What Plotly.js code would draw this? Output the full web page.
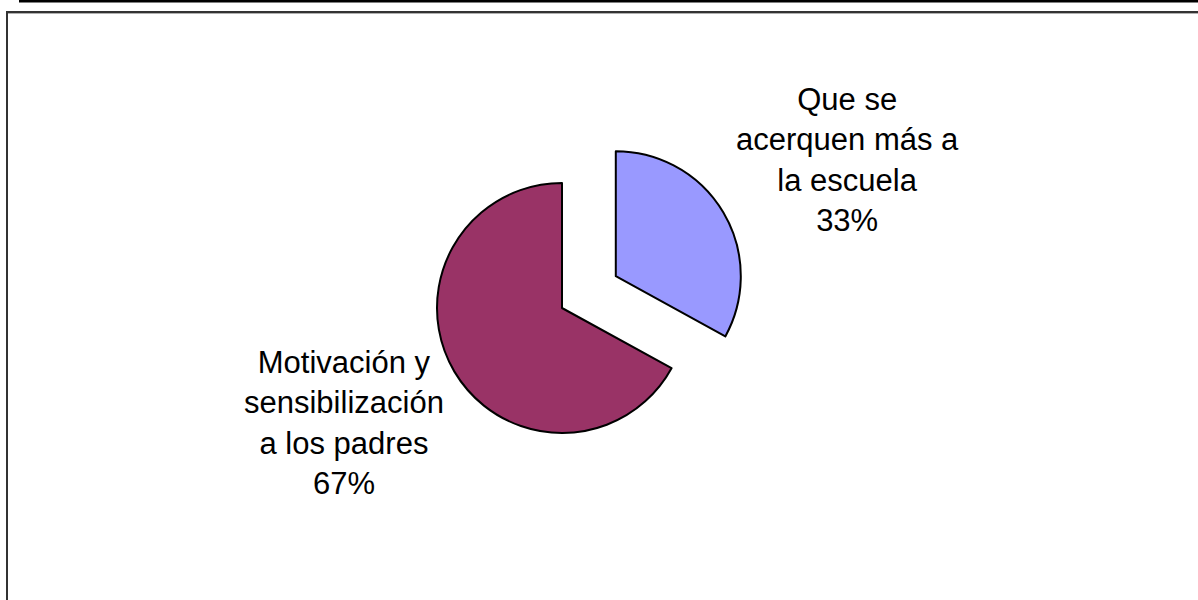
<!DOCTYPE html>
<html>
<head>
<meta charset="utf-8">
<script src="https://cdn.plot.ly/plotly-3.0.1.min.js"></script>
<style>html,body{margin:0;padding:0;background:#fff;}#chart{width:1198px;height:600px;}</style>
</head>
<body>
<div id="chart"></div>
<script>
var labels = ['Que se acerquen más a la escuela', 'Motivación y sensibilización a los padres'];
var labelLines = ['Que se<br>acerquen más a<br>la escuela', 'Motivación y<br>sensibilización<br>a los padres'];
var values = [33, 67];
var colors = ['#9999FF', '#993366'];
var pulls = [0.5, 0];

var W = 1198, H = 600;
function px(x){return x / W;}
function py(y){return 1 - y / H;}

var total = values.reduce(function(a,b){return a+b;}, 0);
var pctText = values.map(function(v){return Math.round(v / total * 100) + '%';});

var trace = {
  type: 'pie',
  labels: labels,
  values: values,
  sort: false,
  direction: 'clockwise',
  rotation: 0,
  pull: pulls,
  marker: {colors: colors, line: {color: '#000000', width: 2}},
  textinfo: 'none',
  hoverinfo: 'label+percent',
  showlegend: false,
  domain: {x: [px(562 - 187.5), px(562 + 187.5)], y: [py(308 + 187.5), py(308 - 187.5)]}
};

var labelPos = [[848, 160], [344, 423]];
var annotations = labels.map(function(l, i){
  return {
    xref: 'paper', yref: 'paper',
    x: px(labelPos[i][0]), y: py(labelPos[i][1]),
    xanchor: 'center', yanchor: 'middle',
    text: labelLines[i] + '<br>' + pctText[i],
    showarrow: false,
    align: 'center',
    font: {family: 'Liberation Sans, Arial, sans-serif', size: 31, color: '#000000'}
  };
});

var layout = {
  width: W, height: H,
  margin: {l: 0, r: 0, t: 0, b: 0},
  paper_bgcolor: '#ffffff',
  plot_bgcolor: '#ffffff',
  annotations: annotations,
  shapes: [
    {type: 'rect', xref: 'paper', yref: 'paper', x0: px(19), x1: px(1198), y0: py(2.5), y1: py(0), fillcolor: '#000000', line: {width: 0}},
    {type: 'line', xref: 'paper', yref: 'paper', x0: px(7), x1: px(1198), y0: py(12), y1: py(12), line: {color: '#333333', width: 2}},
    {type: 'line', xref: 'paper', yref: 'paper', x0: px(8), x1: px(1198), y0: py(13.5), y1: py(13.5), line: {color: '#b0b0b0', width: 1}},
    {type: 'line', xref: 'paper', yref: 'paper', x0: px(7), x1: px(7), y0: py(11), y1: py(600), line: {color: '#333333', width: 2}}
  ]
};

Plotly.newPlot('chart', [trace], layout, {displayModeBar: false, staticPlot: true});
</script>
</body>
</html>
